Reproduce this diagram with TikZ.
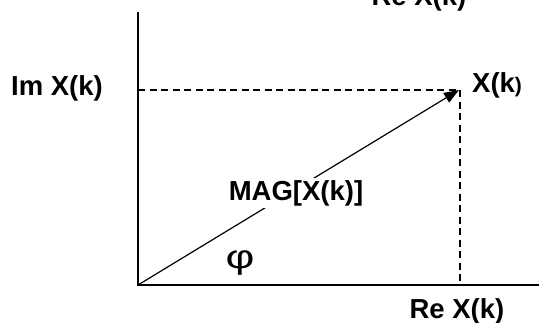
\documentclass[tikz,border=0pt]{standalone}
\usepackage{fontspec}
\setmainfont{Liberation Sans}
\usetikzlibrary{arrows.meta}
\begin{document}
\begin{tikzpicture}[x=1pt,y=-1pt,
  lbl/.style={font=\fontsize{27.5}{30}\selectfont\bfseries, inner sep=0pt},
  axis/.style={line width=1.3pt},
  guide/.style={line width=1.3pt, dash pattern=on 7pt off 4.5pt},
  vec/.style={line width=1.2pt, -{Triangle[length=15pt,width=11pt]}}]
\useasboundingbox (0,0) rectangle (539,322);
\clip (0,0) rectangle (539,322);
\coordinate (O) at (138,285);
\coordinate (T) at (138,12);
\coordinate (E) at (539,285);
\coordinate (P) at (460,90);
\coordinate (Pb) at (460,285);
\coordinate (Py) at (138,90);
\coordinate (Ptip) at (459,90);
\draw[axis] (T) -- (O) -- (E);
\draw[guide] (Py) -- (P) -- (Pb);
\draw[vec] (O) -- (Ptip);
\node[lbl, fill=white, inner sep=2pt, anchor=base] (mag) at (296,200) {MAG[X(k)]};
\node[font=\fontsize{33}{35}\selectfont, inner sep=0pt, anchor=base] (phi) at (240,268) {\scalebox{1.35}[1]{φ}};
\node[lbl, anchor=base] (im) at (57,95) {Im X(k)};
\node[lbl, anchor=base west] (xk) at (472,92) {X(k\fontsize{21}{22}\selectfont)};
\node[lbl, anchor=base] (re) at (457,318.5) {Re X(k)};
\node[lbl, anchor=base] (top) at (419,5) {Re X(k)};
\end{tikzpicture}
\end{document}
